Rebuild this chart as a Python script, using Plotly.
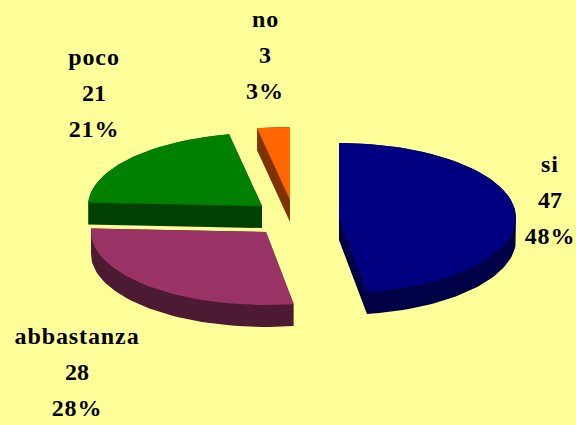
import math
import plotly.graph_objects as go

# Data
categories = ["si", "abbastanza", "poco", "no"]
values = [47, 28, 21, 3]
percent_labels = ["48%", "28%", "21%", "3%"]

# Styles
top_colors = ["#000080", "#993366", "#008000", "#FF6600"]
side_colors = ["#000046", "#4C1A33", "#004000", "#7F3300"]
BG = "#FFFF99"

# Projection of each exploded slice: apex x, apex y, radius x, radius y (page pixels)
apex = [(339, 218, 177, 75), (266, 232, 175, 73), (262, 206, 174, 73), (290, 200, 174, 73)]
DEPTH = 22
label_pos = [(550, 164), (77, 336), (94, 57), (265, 19)]
LINE_GAP = 36


def hull(points):
    pts = sorted(set(points))
    def half(seq):
        out = []
        for p in seq:
            while len(out) >= 2 and (out[-1][0]-out[-2][0])*(p[1]-out[-2][1]) - (out[-1][1]-out[-2][1])*(p[0]-out[-2][0]) <= 0:
                out.pop()
            out.append(p)
        return out[:-1]
    return half(pts) + half(pts[::-1])


total = sum(values)
fig = go.Figure()
start = 0.0
tops = []
for i, v in enumerate(values):
    sweep = 360.0 * v / total
    ax, ay, rx, ry = apex[i]
    n = max(3, int(sweep / 2))
    top = [(ax, ay)]
    for k in range(n + 1):
        t = math.radians(start + sweep * k / n)
        top.append((ax + rx * math.sin(t), ay - ry * math.cos(t)))
    sil = hull(top + [(x, y + DEPTH) for x, y in top])
    sil.append(sil[0])
    fig.add_trace(go.Scatter(x=[p[0] for p in sil], y=[p[1] for p in sil], mode="lines",
                             fill="toself", fillcolor=side_colors[i], line=dict(width=0),
                             hoverinfo="skip", showlegend=False))
    tops.append(top + [top[0]])
    start += sweep

for i, top in enumerate(tops):
    fig.add_trace(go.Scatter(x=[p[0] for p in top], y=[p[1] for p in top], mode="lines",
                             fill="toself", fillcolor=top_colors[i], line=dict(width=0),
                             name=categories[i], hoverinfo="skip", showlegend=False))

for i, cat in enumerate(categories):
    lx, ly = label_pos[i]
    for j, txt in enumerate([cat, str(values[i]), percent_labels[i]]):
        fig.add_annotation(x=lx, y=ly + j * LINE_GAP, text="<b>%s</b>" % txt, showarrow=False,
                           xanchor="center", yanchor="middle",
                           font=dict(family="Liberation Serif", size=24, color="#000000"))

fig.update_xaxes(range=[0, 576], visible=False, fixedrange=True)
fig.update_yaxes(range=[425, 0], visible=False, fixedrange=True)
fig.update_layout(width=576, height=425, margin=dict(l=0, r=0, t=0, b=0),
                  paper_bgcolor=BG, plot_bgcolor=BG, showlegend=False)
post = """
document.documentElement.style.margin='0';
document.body.style.margin='0';
document.body.style.background='#FFFF99';
document.documentElement.style.overflow='hidden';
document.querySelectorAll('.annotation-text').forEach(function(t){
  if(!/^[0-9]+$/.test(t.textContent)){t.style.letterSpacing='0.9px';}
});
"""
fig.write_html("out.html", config=dict(displayModeBar=False), post_script=post)
